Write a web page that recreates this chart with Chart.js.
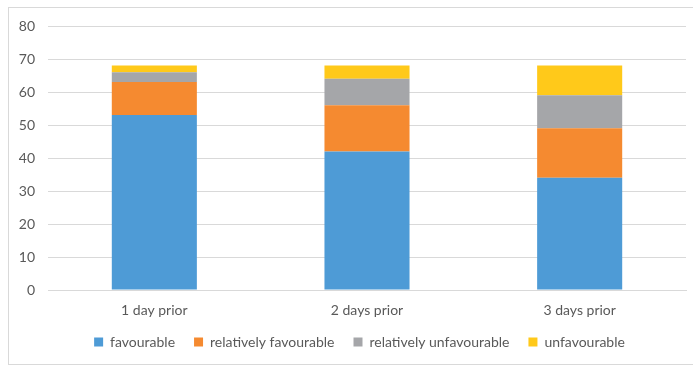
<!DOCTYPE html>
<html>
<head>
<meta charset="utf-8">
<script src="https://cdn.jsdelivr.net/npm/chart.js@4"></script>
<style>
  html, body { margin: 0; padding: 0; background: #fff; }
  #wrap { position: relative; width: 693px; height: 366px; }
</style>
</head>
<body>
<div id="wrap"><canvas id="chart" width="693" height="366"></canvas></div>
<script>
const categories = ['1 day prior', '2 days prior', '3 days prior'];
const favourable = [53, 42, 34];
const relativelyFavourable = [10, 14, 15];
const relativelyUnfavourable = [3, 8, 10];
const unfavourable = [2, 4, 9];
const yTicks = [0, 10, 20, 30, 40, 50, 60, 70, 80];

const textColor = '#595959';
const font = { family: 'Lato, "Open Sans", sans-serif', size: 14 };

// outer frame like the spreadsheet chart border
const frame = {
  id: 'frame',
  beforeDraw(chart) {
    const c = chart.ctx;
    c.save();
    c.fillStyle = '#fff';
    c.fillRect(0, 0, chart.width, chart.height);
    c.strokeStyle = '#d9d9d9';
    c.lineWidth = 1;
    c.strokeRect(8.5, 7.5, chart.width, chart.height - 9);
    c.restore();
  }
};

// the legend sits a bit right of the canvas centre and slightly higher
const legendNudge = {
  id: 'legendNudge',
  afterLayout(chart) {
    chart.legend.left += 33;
    chart.legend.top -= 4;
  }
};

const ctx = document.getElementById('chart').getContext('2d');
new Chart(ctx, {
  type: 'bar',
  data: {
    labels: categories,
    datasets: [
      { label: 'favourable', data: favourable, backgroundColor: '#4e9bd6' },
      { label: 'relatively favourable', data: relativelyFavourable, backgroundColor: '#f58a30' },
      { label: 'relatively unfavourable', data: relativelyUnfavourable, backgroundColor: '#a5a6a9' },
      { label: 'unfavourable', data: unfavourable, backgroundColor: '#ffc91a' }
    ]
  },
  options: {
    responsive: false,
    animation: false,
    layout: { padding: { top: 26, right: 7, bottom: 3, left: 0 } },
    datasets: { bar: { categoryPercentage: 1, barPercentage: 0.4 } },
    plugins: {
      legend: {
        position: 'bottom',
        labels: {
          color: textColor,
          font: font,
          boxWidth: 9,
          boxHeight: 9,
          padding: 19
        }
      },
      tooltip: { enabled: false }
    },
    scales: {
      x: {
        stacked: true,
        grid: { display: false, drawTicks: false },
        border: { color: '#d9d9d9' },
        ticks: { color: textColor, font: font, padding: 12 },
        afterFit(scale) { scale.height = 30; }
      },
      y: {
        stacked: true,
        min: 0,
        max: 80,
        afterBuildTicks(scale) { scale.ticks = yTicks.map(v => ({ value: v })); },
        grid: { color: '#d9d9d9', drawTicks: false },
        border: { display: false },
        ticks: { color: textColor, font: font, padding: 13 },
        afterFit(scale) { scale.width = 48; }
      }
    }
  },
  plugins: [frame, legendNudge]
});
</script>
</body>
</html>
